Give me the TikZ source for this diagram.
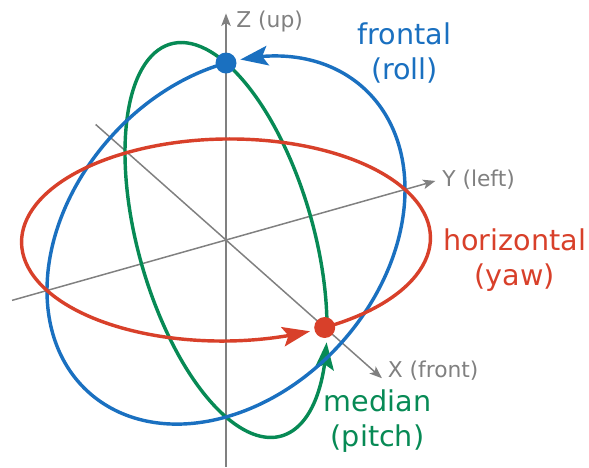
\documentclass[tikz,border=0pt]{standalone}
\usepackage{fontspec}
\setmainfont{DejaVu Sans}
\usetikzlibrary{calc,arrows.meta,bending}
\definecolor{frontalblue}{HTML}{1A70C0}
\definecolor{horizred}{HTML}{D8402A}
\definecolor{mediangreen}{HTML}{078A55}
\definecolor{axisgray}{HTML}{808080}
\tikzset{
  axisline/.style={axisgray, line width=0.85pt, -{Stealth[length=0.25cm, width=0.19cm, inset=0.06cm]}},
  axislabel/.style={text=axisgray, font=\fontsize{12.4}{14}\selectfont, anchor=west, inner sep=0pt},
  planeline/.style={line width=1.95pt, -{Stealth[length=0.55cm, width=0.39cm, inset=0.11cm]}},
  planelabel/.style={font=\fontsize{16.3}{20}\selectfont, align=center, anchor=north, inner sep=0pt},
  pole/.style={circle, inner sep=0pt, minimum size=0.42cm},
  planeXY/.style={x={(1.974cm,-1.75cm)}, y={(3.58cm,1.01cm)}},
  planeYZ/.style={x={(3.58cm,1.01cm)}, y={(0cm,3.54cm)}},
  planeXZ/.style={x={(2.02cm,-1.75cm)}, y={(0cm,3.54cm)}}
}

\begin{document}
\begin{tikzpicture}
  \useasboundingbox (-4.52,-4.54) rectangle (7.26,4.8);
  % axis end points
  \begin{scope}[planeXY]
    \coordinate (xneg) at (-1.32,0);
    \coordinate (xpos) at (1.58,0);
    \coordinate (yneg) at (0,-1.195);
    \coordinate (ypos) at (0,1.17);
    \coordinate (xpole) at (1,0);
  \end{scope}
  \begin{scope}[planeYZ]
    \coordinate (zneg) at (0,-1.28);
    \coordinate (zpos) at (0,1.28);
    \coordinate (zpole) at (0,1);
  \end{scope}
  \draw[axisline] (xneg) -- (xpos);
  \draw[axisline] (yneg) -- (ypos);
  \draw[axisline] (zneg) -- (zpos);
  % great circles
  \begin{scope}[planeXZ]
    \draw[planeline, mediangreen] (0:1) arc[start angle=0, end angle=355.1, radius=1];
  \end{scope}
  \begin{scope}[planeYZ]
    \draw[planeline, frontalblue] (90:1) arc[start angle=90, end angle=445.4, radius=1];
  \end{scope}
  \begin{scope}[planeXY]
    \draw[planeline, horizred] (0:1) arc[start angle=0, end angle=355.4, radius=1];
  \end{scope}
  % poles
  \node[pole, fill=frontalblue] (zdot) at (zpole) {};
  \node[pole, fill=horizred] (xdot) at (xpole) {};
  % labels
  \node[axislabel] (zlabel) at ([xshift=0.2cm, yshift=-0.17cm]zpos) {Z (up)};
  \node[axislabel] (ylabel) at ([xshift=0.13cm, yshift=0.03cm]ypos) {Y (left)};
  \node[axislabel] (xlabel) at ([xshift=0.11cm, yshift=0.15cm]xpos) {X (front)};
  \node[planelabel, text=frontalblue] (frontal) at (3.57,4.36) {frontal\\(roll)};
  \node[planelabel, text=horizred] (horizontal) at (5.77,0.24) {horizontal\\(yaw)};
  \node[planelabel, text=mediangreen] (median) at (3.03,-2.98) {median\\(pitch)};
\end{tikzpicture}
\end{document}
